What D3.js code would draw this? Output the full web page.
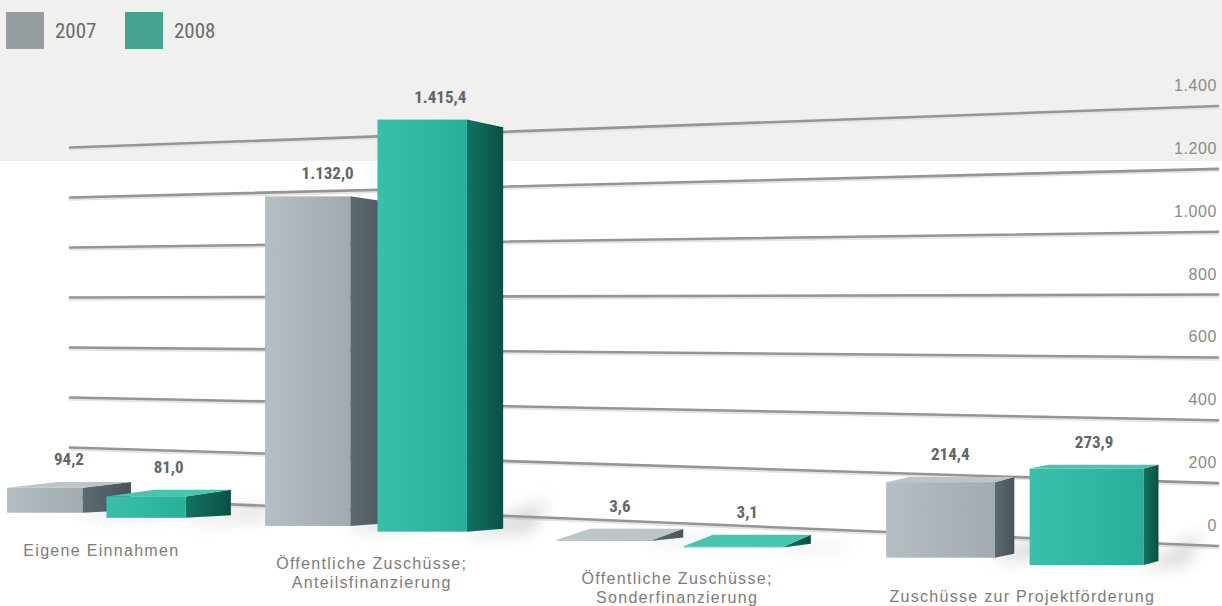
<!DOCTYPE html>
<html>
<head>
<meta charset="utf-8">
<script src="https://cdn.jsdelivr.net/npm/d3@7"></script>
<style>
  html, body { margin: 0; padding: 0; background: #ffffff; }
  svg { display: block; }
</style>
</head>
<body>
<svg id="chart" width="1222" height="606"></svg>
<script>
// ---- data ----
const categories = [
  "Eigene Einnahmen",
  "Öffentliche Zuschüsse; Anteilsfinanzierung",
  "Öffentliche Zuschüsse; Sonderfinanzierung",
  "Zuschüsse zur Projektförderung"
];
const categoryLines = [
  ["Eigene Einnahmen"],
  ["Öffentliche Zuschüsse;", "Anteilsfinanzierung"],
  ["Öffentliche Zuschüsse;", "Sonderfinanzierung"],
  ["Zuschüsse zur Projektförderung"]
];
const seriesNames = ["2007", "2008"];
const values2007 = [94.2, 1132.0, 3.6, 214.4];
const values2008 = [81.0, 1415.4, 3.1, 273.9];
const tickValues = [0, 200, 400, 600, 800, 1000, 1200, 1400];

// ---- German number formatting ----
const de = d3.formatLocale({ decimal: ",", thousands: ".", grouping: [3], currency: ["", " €"] });
const fmtValue = de.format(",.1f");
const fmtTick = de.format(",");

// ---- styles ----
const colors = {
  "2007": { front: ["#b5bec2", "#a1abb0"], side: ["#5d6a70", "#48545a"], top: "#bcc5c9", legend: "#979ea2" },
  "2008": { front: ["#38c0aa", "#26b09a"], side: ["#137263", "#0a5046"], top: "#48c4af", legend: "#45a290" }
};

const svg = d3.select("#chart");
const W = 1222, H = 606;

// ---- perspective scene ----
// world position u along the floor -> screen x, growing towards the viewer on the right
const R = 1.13;
const groupScale = d3.scaleBand().domain(categories).range([0, 4]);
const seriesScale = d3.scaleBand().domain(seriesNames).range([0, 0.705]).paddingInner(0.2375);
const depthX = d3.scaleLinear().domain([1, Math.pow(R, 4)]).range([7, 1258.5]);
const px = u => depthX(Math.pow(R, u));
// vertical magnification of each bar group
const groupNearness = u => Math.pow(1.1, u + 0.35);
const heightScale = d3.scaleLinear().domain([0, 1400]).range([0, 358.4]);
const floorY = d3.scaleLinear().domain([0, W]).range([510.5, 571.8]);

// back wall grid: value -> y at the wall's left and right ends
const wallX0 = 70, wallX1 = 1218;
const wallLeft = d3.scaleLinear().domain([0, 1400]).range([497.5, 147.5]);
const wallRight = d3.scaleLinear().domain([0, 1400]).range([546, 106]);

// receding edges of the boxes: x towards a point far right, y around eye level
const VPx = 1600, eyeY = 430;
const backX = x => x + 0.032 * (VPx - x);
const backTopY = y => y < eyeY ? y + 0.025 * (eyeY - y) : y - 0.1 * (y - eyeY);
const backBottomY = y => y - 0.03 * (y - eyeY);

// ---- defs: gradients, blur ----
const defs = svg.append("defs");
seriesNames.forEach(s => {
  const gf = defs.append("linearGradient").attr("id", "front" + s).attr("x1", 0).attr("x2", 1).attr("y1", 0).attr("y2", 0);
  gf.append("stop").attr("offset", "0%").attr("stop-color", colors[s].front[0]);
  gf.append("stop").attr("offset", "100%").attr("stop-color", colors[s].front[1]);
  const gs = defs.append("linearGradient").attr("id", "side" + s).attr("x1", 0).attr("x2", 1).attr("y1", 0).attr("y2", 0);
  gs.append("stop").attr("offset", "0%").attr("stop-color", colors[s].side[0]);
  gs.append("stop").attr("offset", "100%").attr("stop-color", colors[s].side[1]);
});
defs.append("filter").attr("id", "soft").attr("x", "-50%").attr("y", "-50%").attr("width", "200%").attr("height", "200%")
  .append("feGaussianBlur").attr("stdDeviation", 8);

// ---- background band ----
svg.append("rect").attr("x", 0).attr("y", 0).attr("width", W).attr("height", H).attr("fill", "#ffffff");
svg.append("rect").attr("x", 0).attr("y", 0).attr("width", W).attr("height", 161).attr("fill", "#f0f0ee");

// ---- legend ----
const legend = svg.append("g").attr("class", "legend");
seriesNames.forEach((s, i) => {
  const g = legend.append("g").attr("transform", `translate(${6 + i * 119},12)`);
  g.append("rect").attr("width", 38).attr("height", 37).attr("fill", colors[s].legend);
  g.append("text").attr("x", 49).attr("y", 26)
    .attr("font-family", "'Liberation Sans Narrow', 'Arial Narrow', 'Roboto Condensed', sans-serif")
    .attr("font-size", 21).attr("fill", "#6b6b6b").text(s);
});

// ---- wall gridlines and tick labels ----
const grid = svg.append("g").attr("class", "grid");
grid.selectAll("line.shadow").data(tickValues).join("line").attr("class", "shadow")
  .attr("x1", wallX0).attr("x2", wallX1)
  .attr("y1", d => wallLeft(d) + 2).attr("y2", d => wallRight(d) + 2)
  .attr("stroke", "#e4e4e4").attr("stroke-width", 2.5).attr("stroke-linecap", "round");
grid.selectAll("line.tick").data(tickValues).join("line").attr("class", "tick")
  .attr("x1", wallX0).attr("x2", wallX1)
  .attr("y1", d => wallLeft(d)).attr("y2", d => wallRight(d))
  .attr("stroke", "#959595").attr("stroke-width", 2.6).attr("stroke-linecap", "round");
grid.selectAll("text").data(tickValues).join("text")
  .attr("x", 1217).attr("y", d => wallRight(d) - 15)
  .attr("text-anchor", "end")
  .attr("font-family", "'Liberation Sans', Arial, sans-serif")
  .attr("font-size", 16).attr("letter-spacing", 0.6).attr("fill", "#8a8a8a")
  .text(d => fmtTick(d));

// ---- bars ----
const bars = [];
categories.forEach((c, i) => {
  [values2007[i], values2008[i]].forEach((v, j) => {
    const s = seriesNames[j];
    const g0 = groupScale(c);
    const u0 = g0 + seriesScale(s);
    const u1 = u0 + seriesScale.bandwidth();
    const x0 = px(u0), x1 = px(u1);
    const yB = floorY((x0 + x1) / 2);
    const yT = yB - heightScale(v) * groupNearness(g0);
    bars.push({ c, s, v, x0, x1, yB, yT });
  });
});

// floor shadows cast to the right
const shadowG = svg.append("g").attr("filter", "url(#soft)").attr("opacity", 0.35);
bars.forEach(b => {
  const bx = backX(b.x1), by = backBottomY(b.yB);
  const h = Math.min(b.yB - b.yT, 60);
  shadowG.append("path")
    .attr("d", d3.line()([[b.x1, b.yB], [bx + 45, by - h * 0.5], [bx + 30, by + 4], [b.x1, b.yB + 4]]))
    .attr("fill", "#9a9a9a");
});

const barG = svg.append("g").attr("class", "bars");
bars.forEach(b => {
  const g = barG.append("g");
  const xR = backX(b.x1), xL = backX(b.x0);
  const yTb = backTopY(b.yT), yBb = backBottomY(b.yB);
  // right side face
  g.append("path").attr("d", d3.line()([[b.x1, b.yT], [xR, yTb], [xR, yBb], [b.x1, b.yB]]) + "Z")
    .attr("fill", `url(#side${b.s})`);
  // top face, visible below eye level
  if (yTb < b.yT) {
    g.append("path").attr("d", d3.line()([[b.x0, b.yT], [b.x1, b.yT], [xR, yTb], [xL, yTb]]) + "Z")
      .attr("fill", colors[b.s].top);
  }
  // front face
  g.append("rect").attr("x", b.x0).attr("y", b.yT)
    .attr("width", b.x1 - b.x0).attr("height", Math.max(b.yB - b.yT, 0.5))
    .attr("fill", `url(#front${b.s})`);
  b.labelX = (b.x0 + xR) / 2;
  b.labelY = Math.min(b.yT, yTb) - 17;
});

// value labels
svg.append("g").selectAll("text").data(bars).join("text")
  .attr("x", d => d.labelX).attr("y", d => d.labelY)
  .attr("text-anchor", "middle")
  .attr("font-family", "'Liberation Sans Narrow', 'Arial Narrow', 'Roboto Condensed', sans-serif")
  .attr("font-weight", "bold").attr("font-size", 17).attr("fill", "#62666a")
  .text(d => fmtValue(d.v));

// category labels on the floor
const catG = svg.append("g");
categories.forEach((c, i) => {
  const cx = px(groupScale(c) + 0.38);
  const y0 = floorY(cx) + 40;
  const t = catG.append("text")
    .attr("text-anchor", "middle")
    .attr("font-family", "'Liberation Sans', Arial, sans-serif")
    .attr("font-size", 16).attr("letter-spacing", 1.3).attr("fill", "#7c7c7c");
  categoryLines[i].forEach((line, k) => {
    t.append("tspan").attr("x", cx).attr("y", y0 + k * 19).text(line);
  });
});
</script>
</body>
</html>
